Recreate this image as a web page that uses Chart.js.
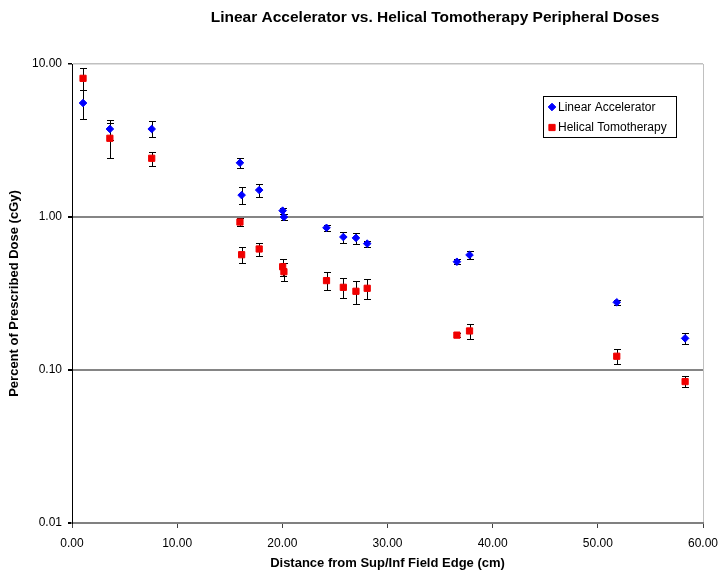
<!DOCTYPE html>
<html lang="en">
<head>
<meta charset="UTF-8">
<title>Linear Accelerator vs. Helical Tomotherapy Peripheral Doses</title>
<script src="https://cdn.jsdelivr.net/npm/chart.js"></script>
<style>
  html, body { margin: 0; padding: 0; background: #fff; }
  #doseChart { display: block; }
</style>
</head>
<body>
<canvas id="doseChart" width="719" height="576"></canvas>
<script>
// distance from field edge (cm), shared by both series
const distance  = [1.05, 3.6, 7.58, 15.97, 16.13, 17.8, 20.03, 20.15, 24.2, 25.8, 27.0, 28.07, 36.6, 37.8, 51.8, 58.3];
// percent of prescribed dose
const linacDose = [5.56, 3.76, 3.76, 2.26, 1.39, 1.50, 1.10, 1.00, 0.85, 0.74, 0.73, 0.67, 0.51, 0.565, 0.277, 0.161];
const linacErr  = [1.2, 0.55, 0.45, 0.17, 0.17, 0.14, 0.05, 0.05, 0.04, 0.06, 0.06, 0.03, 0.02, 0.03, 0.01, 0.013];
const tomoDose  = [8.06, 3.27, 2.42, 0.927, 0.567, 0.618, 0.473, 0.439, 0.384, 0.347, 0.327, 0.342, 0.169, 0.18, 0.123, 0.084];
const tomoErr   = [1.3, 0.85, 0.25, 0.06, 0.065, 0.06, 0.06, 0.06, 0.05, 0.05, 0.055, 0.05, 0.005, 0.02, 0.014, 0.007];

const xTicks = [0, 10, 20, 30, 40, 50, 60];
const yTicks = [0.01, 0.1, 1, 10];

const FONT = "'Liberation Sans', Arial, sans-serif";

// vertical error bars, drawn under the markers
const errorBars = {
  id: 'errorBars',
  beforeDatasetsDraw(chart) {
    const ctx = chart.ctx;
    const xs = chart.scales.x, ys = chart.scales.y;
    ctx.save();
    ctx.strokeStyle = '#000';
    ctx.lineWidth = 1;
    chart.data.datasets.forEach(ds => {
      ds.data.forEach((p, i) => {
        const e = ds.errors[i];
        const px = Math.round(xs.getPixelForValue(p.x)) + 0.5;
        const top = Math.round(ys.getPixelForValue(p.y + e)) + 0.5;
        const bot = Math.round(ys.getPixelForValue(p.y - e)) + 0.5;
        ctx.beginPath();
        ctx.moveTo(px, top); ctx.lineTo(px, bot);
        ctx.moveTo(px - 3.5, top); ctx.lineTo(px + 3.5, top);
        ctx.moveTo(px - 3.5, bot); ctx.lineTo(px + 3.5, bot);
        ctx.stroke();
      });
    });
    ctx.restore();
  }
};

// chart title and boxed legend inside the plot area
const decorations = {
  id: 'decorations',
  afterDraw(chart) {
    const ctx = chart.ctx;
    ctx.save();
    ctx.fillStyle = '#000';
    ctx.font = 'bold 15.5px ' + FONT;
    ctx.textAlign = 'center';
    ctx.textBaseline = 'middle';
    ctx.fillText('Linear Accelerator vs. Helical Tomotherapy Peripheral Doses', 435, 18);

    // legend box
    ctx.fillStyle = '#fff';
    ctx.fillRect(543, 96, 133, 41);
    ctx.strokeStyle = '#000';
    ctx.lineWidth = 1;
    ctx.strokeRect(543.5, 96.5, 133, 41);
    ctx.font = '12px ' + FONT;
    ctx.textAlign = 'left';
    chart.data.datasets.forEach((ds, i) => {
      const y = 107 + i * 20.5;
      ctx.fillStyle = ds.backgroundColor;
      ctx.strokeStyle = ds.borderColor;
      Chart.helpers.drawPoint(ctx, {
        pointStyle: ds.pointStyle, radius: ds.pointRadius, borderWidth: 1, rotation: 0
      }, 552, y);
      ctx.fillStyle = '#000';
      ctx.fillText(ds.label, 558, y + 0.5);
    });
    ctx.restore();
  }
};

new Chart(document.getElementById('doseChart'), {
  type: 'scatter',
  data: {
    datasets: [
      {
        label: 'Linear Accelerator',
        data: distance.map((x, i) => ({ x: x, y: linacDose[i] })),
        errors: linacErr,
        pointStyle: 'rectRot',
        pointRadius: 3.8,
        backgroundColor: '#0000ff',
        borderColor: '#0000ff',
        borderWidth: 1
      },
      {
        label: 'Helical Tomotherapy',
        data: distance.map((x, i) => ({ x: x, y: tomoDose[i] })),
        errors: tomoErr,
        pointStyle: 'rect',
        pointRadius: 4.4,
        backgroundColor: '#f00000',
        borderColor: '#f00000',
        borderWidth: 1
      }
    ]
  },
  options: {
    responsive: false,
    animation: false,
    devicePixelRatio: 1,
    layout: { padding: { top: 64, right: 16, bottom: 0, left: 0 } },
    plugins: {
      legend: { display: false },
      tooltip: { enabled: false }
    },
    scales: {
      x: {
        type: 'linear',
        min: 0,
        max: 60,
        afterBuildTicks: s => { s.ticks = xTicks.map(v => ({ value: v })); },
        afterFit: s => { s.height = 53; s.paddingLeft = 0; s.paddingRight = 0; },
        ticks: {
          color: '#000',
          font: { family: FONT, size: 12 },
          padding: 8,
          maxRotation: 0,
          callback: v => Number(v).toFixed(2)
        },
        grid: {
          color: c => (c.tick && c.tick.value === 60) ? '#c0c0c0' : 'rgba(0,0,0,0)',
          lineWidth: 1,
          tickColor: '#404040',
          tickLength: 5
        },
        border: { color: '#808080', width: 2 },
        title: {
          display: true,
          text: 'Distance from Sup/Inf Field Edge (cm)',
          color: '#000',
          font: { family: FONT, size: 13, weight: 'bold' },
          padding: { top: 0, bottom: 5 }
        }
      },
      y: {
        type: 'logarithmic',
        min: 0.01,
        max: 10,
        afterBuildTicks: s => { s.ticks = yTicks.map(v => ({ value: v })); },
        afterFit: s => { s.width = 72; },
        ticks: {
          color: '#000',
          font: { family: FONT, size: 12 },
          padding: 6,
          callback: v => Number(v).toFixed(2)
        },
        grid: {
          color: c => {
            if (!c.tick) return 'rgba(0,0,0,0)';
            if (c.tick.value === 10) return '#c0c0c0';
            if (c.tick.value === 0.01) return 'rgba(0,0,0,0)';
            return '#858585';
          },
          lineWidth: c => (c.tick && c.tick.value === 10) ? 1.5 : 2,
          tickColor: '#000',
          tickLength: 4
        },
        border: { color: '#000', width: 1 },
        title: {
          display: true,
          text: 'Percent of Prescribed Dose (cGy)',
          color: '#000',
          font: { family: FONT, size: 13, weight: 'bold' },
          padding: { top: 7, bottom: 0 }
        }
      }
    }
  },
  plugins: [errorBars, decorations]
});
</script>
</body>
</html>
